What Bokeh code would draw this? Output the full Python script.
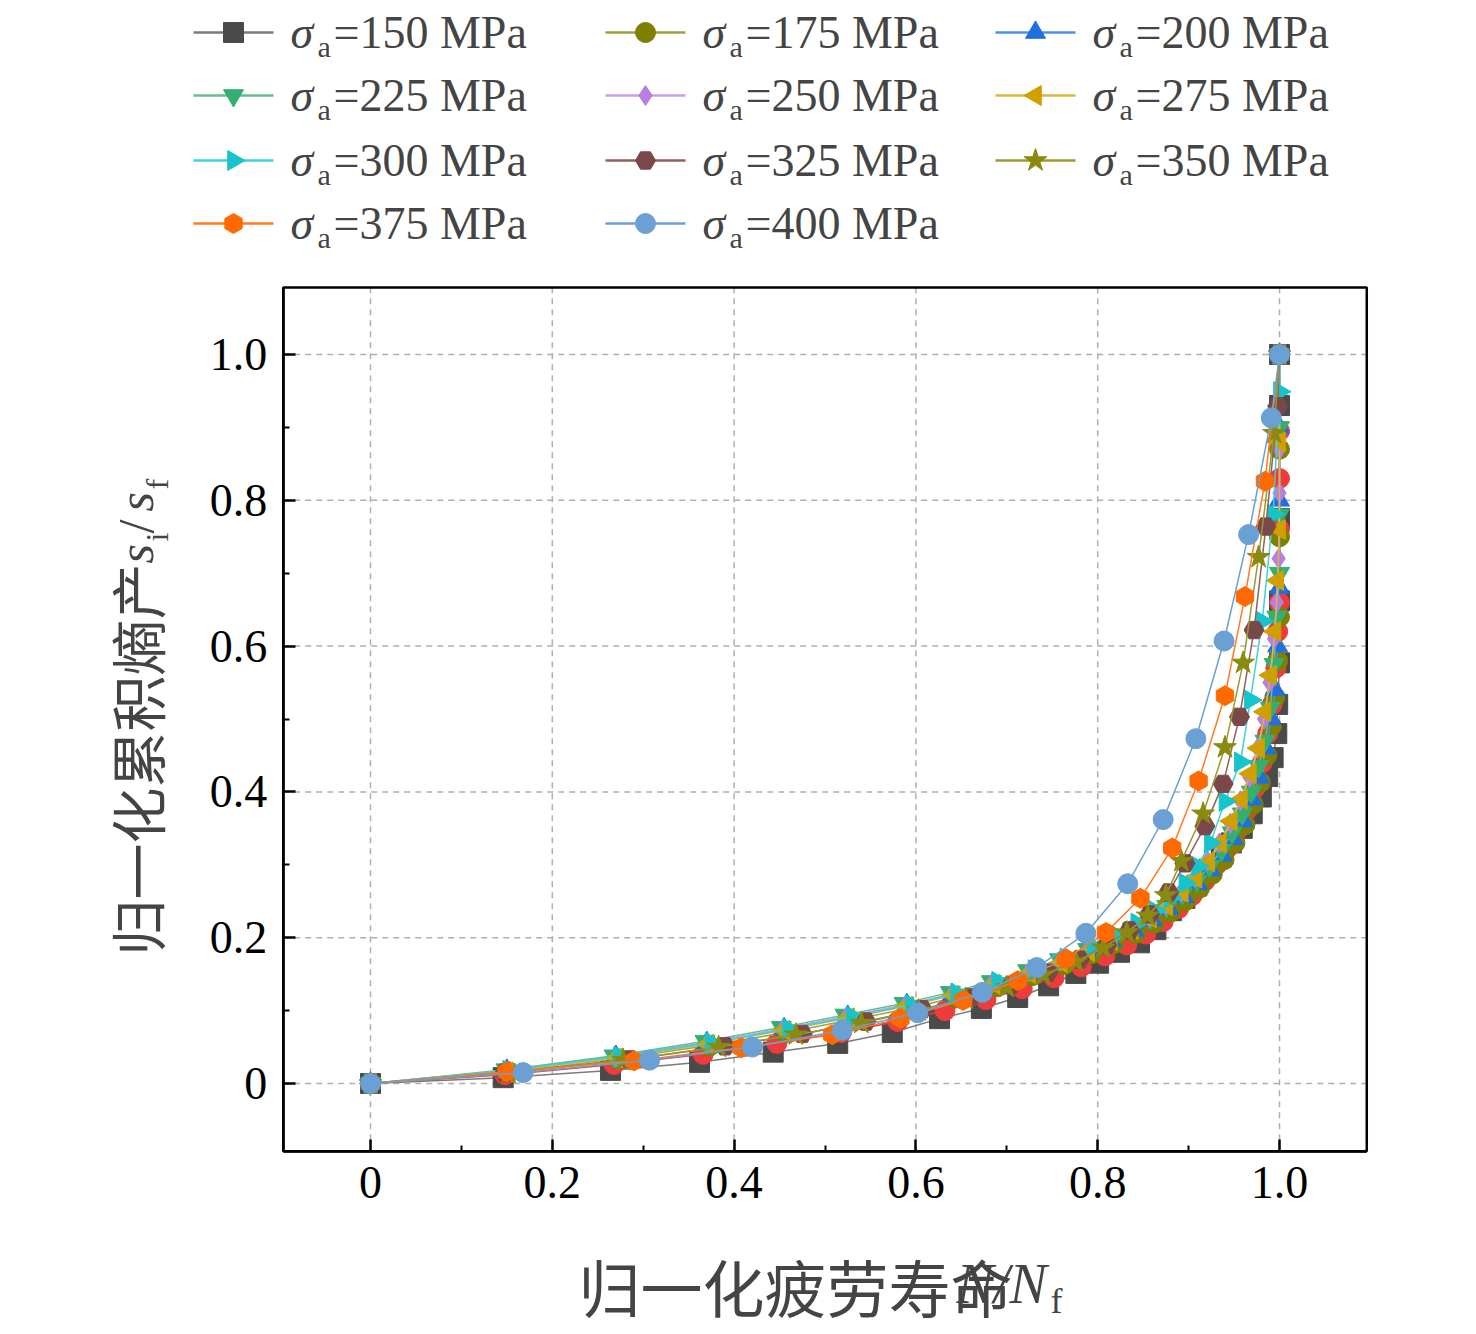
import math
from bokeh.plotting import figure
from bokeh.models import Range1d, Label, FixedTicker
from bokeh.embed import file_html
from bokeh.resources import INLINE

X150=[0,0.146,0.264,0.362,0.443,0.514,0.574,0.626,0.672,0.712,0.746,0.776,0.801,0.824,0.846,0.864,0.881,0.896,0.909,0.923,0.936,0.947,0.959,0.970,0.980,0.987,0.993,0.997,0.998,1.0,1.0,1.0,1.0,1.0]
Y150=[0,0.008,0.018,0.029,0.043,0.055,0.070,0.089,0.103,0.118,0.134,0.151,0.165,0.180,0.193,0.211,0.237,0.254,0.271,0.294,0.311,0.330,0.350,0.370,0.393,0.421,0.447,0.480,0.520,0.577,0.662,0.775,0.930,1.0]
XRED=[0,0.148,0.268,0.366,0.447,0.518,0.58,0.632,0.677,0.717,0.752,0.782,0.808,0.832,0.853,0.872,0.889,0.904,0.918,0.931,0.943,0.954,0.964,0.973,0.981,0.987,0.992,0.996,0.998,1.0,1.0,1.0,1.0,1.0]
YRED=[0,0.012,0.026,0.04,0.055,0.07,0.085,0.1,0.115,0.13,0.145,0.16,0.175,0.19,0.205,0.222,0.24,0.258,0.278,0.3,0.323,0.348,0.375,0.405,0.44,0.48,0.52,0.57,0.62,0.66,0.76,0.83,0.895,1.0]
X175=[0,0.152,0.272,0.372,0.457,0.528,0.592,0.643,0.688,0.728,0.763,0.793,0.818,0.842,0.862,0.88,0.897,0.912,0.926,0.939,0.951,0.962,0.971,0.979,0.986,0.991,0.995,0.998,1.0,1.0,1.0,1.0]
Y175=[0,0.016,0.034,0.052,0.07,0.087,0.103,0.118,0.133,0.148,0.163,0.178,0.192,0.206,0.22,0.235,0.251,0.268,0.287,0.307,0.33,0.355,0.383,0.413,0.45,0.49,0.53,0.58,0.64,0.75,0.87,1.0]
X200=[0,0.15,0.27,0.37,0.455,0.525,0.59,0.64,0.685,0.725,0.76,0.79,0.815,0.84,0.86,0.878,0.895,0.91,0.924,0.937,0.949,0.96,0.97,0.978,0.985,0.991,0.995,0.998,1.0,1.0,1.0,1.0]
Y200=[0,0.018,0.037,0.056,0.075,0.092,0.108,0.122,0.137,0.152,0.167,0.182,0.196,0.21,0.224,0.24,0.256,0.274,0.293,0.313,0.336,0.36,0.39,0.42,0.46,0.5,0.54,0.6,0.68,0.8,0.9,1.0]
X225=[0,0.149,0.268,0.368,0.452,0.522,0.587,0.638,0.683,0.723,0.758,0.789,0.814,0.838,0.858,0.876,0.893,0.909,0.923,0.936,0.948,0.959,0.969,0.977,0.984,0.99,0.994,0.997,1.0,1.0,1.0,1.0]
Y225=[0,0.019,0.038,0.058,0.077,0.094,0.11,0.125,0.14,0.155,0.17,0.184,0.198,0.212,0.227,0.243,0.26,0.278,0.298,0.32,0.344,0.37,0.4,0.435,0.47,0.515,0.575,0.64,0.7,0.78,0.9,1.0]
X250=[0,0.151,0.27,0.371,0.454,0.524,0.589,0.64,0.684,0.724,0.759,0.789,0.814,0.838,0.857,0.875,0.892,0.907,0.921,0.934,0.946,0.957,0.967,0.976,0.983,0.989,0.994,0.997,0.999,1.0,1.0,1.0]
Y250=[0,0.017,0.036,0.056,0.075,0.092,0.108,0.123,0.138,0.153,0.168,0.183,0.198,0.213,0.228,0.245,0.263,0.283,0.305,0.33,0.357,0.388,0.42,0.46,0.5,0.55,0.61,0.66,0.72,0.81,0.87,1.0]
X275=[0,0.15,0.271,0.371,0.455,0.526,0.59,0.641,0.686,0.725,0.76,0.79,0.815,0.838,0.858,0.876,0.893,0.908,0.922,0.935,0.947,0.958,0.968,0.977,0.984,0.99,0.995,0.998,1.0,1.0,1.0]
Y275=[0,0.016,0.035,0.054,0.073,0.09,0.106,0.121,0.136,0.151,0.166,0.181,0.196,0.211,0.227,0.244,0.262,0.282,0.304,0.33,0.36,0.39,0.425,0.46,0.51,0.56,0.62,0.69,0.76,0.88,1.0]
X300=[0,0.152,0.274,0.375,0.46,0.53,0.595,0.645,0.69,0.73,0.765,0.795,0.82,0.843,0.863,0.88,0.896,0.91,0.924,0.94,0.957,0.968,0.981,0.993,1.0,1.0]
Y300=[0,0.018,0.037,0.056,0.075,0.092,0.108,0.124,0.14,0.156,0.172,0.188,0.204,0.22,0.237,0.255,0.275,0.298,0.33,0.387,0.441,0.526,0.634,0.781,0.949,1.0]
X325=[0,0.148,0.285,0.39,0.475,0.545,0.607,0.66,0.705,0.745,0.78,0.81,0.835,0.857,0.878,0.896,0.918,0.938,0.956,0.972,0.985,0.998,1.0]
Y325=[0,0.015,0.033,0.051,0.068,0.085,0.102,0.118,0.135,0.152,0.17,0.19,0.21,0.232,0.262,0.302,0.353,0.411,0.503,0.622,0.764,0.929,1.0]
X350=[0,0.152,0.278,0.383,0.468,0.54,0.603,0.655,0.7,0.74,0.776,0.806,0.832,0.855,0.875,0.892,0.916,0.94,0.96,0.977,0.994,1.0]
Y350=[0,0.014,0.032,0.05,0.067,0.083,0.1,0.116,0.132,0.149,0.167,0.186,0.207,0.23,0.258,0.305,0.37,0.461,0.577,0.722,0.892,1.0]
X375=[0,0.15,0.29,0.408,0.508,0.583,0.652,0.712,0.765,0.809,0.847,0.882,0.911,0.94,0.962,0.984,1.0]
Y375=[0,0.016,0.031,0.049,0.067,0.089,0.114,0.141,0.171,0.207,0.254,0.323,0.415,0.532,0.668,0.826,1.0]
X400=[0,0.168,0.307,0.42,0.519,0.602,0.673,0.733,0.787,0.833,0.872,0.908,0.939,0.966,0.991,1.0]
Y400=[0,0.015,0.032,0.05,0.073,0.097,0.125,0.159,0.206,0.274,0.362,0.473,0.607,0.753,0.913,1.0]

LEVELS=["150","175","200","225","250","275","300","325","350","375","400"]
TICKS=[0,0.2,0.4,0.6,0.8,1.0]
TICK_LABELS=["0","0.2","0.4","0.6","0.8","1.0"]
MINOR=[0.1,0.3,0.5,0.7,0.9]

SERIES={
 "150":(X150,Y150,"#4a4a4a","#7a7a7a","square",0),
 "red":(XRED,YRED,"#ee3b3b","#ee3b3b","circle",0),
 "175":(X175,Y175,"#7f7f00","#a0a040","circle",0),
 "200":(X200,Y200,"#1f6fe0","#4a90e8","triangle",0),
 "225":(X225,Y225,"#33b070","#60c090","inverted_triangle",0),
 "250":(X250,Y250,"#b77fe0","#c8a0e8","diamond",0),
 "275":(X275,Y275,"#d0a000","#d8b840","triangle",math.pi/2),
 "300":(X300,Y300,"#18c4cc","#40d0d8","triangle",-math.pi/2),
 "325":(X325,Y325,"#7a4848","#906060","hex",0),
 "350":(X350,Y350,"#8a8a10","#9a9a30","star",0),
 "375":(X375,Y375,"#ff6a00","#ff7a20","hex",math.pi/6),
 "400":(X400,Y400,"#6aa0d4","#6aa0d4","circle",0),
}
ORDER=["150","red","175","200","225","250","275","300","325","350","375","400"]
SERIF="Liberation Serif"
CJK="Noto Sans CJK SC"

# page layout: data 0 -> px 370, 1 -> px 1279 ; y 0 -> px 1083, 1 -> px 354
W,H=1460,1318
SX,SY=909.0,729.0
def X(px): return (px-370)/SX
def Y(py): return (1083-py)/SY
XL,XR,YB,YT=-0.096,1.096,-0.093,1.092

p=figure(width=W,height=H,output_backend="svg",toolbar_location=None,
         x_range=Range1d(X(0),X(W)),y_range=Range1d(Y(H),Y(0)),min_border=0)
p.outline_line_color=None
p.background_fill_color="white"
p.xgrid.visible=False; p.ygrid.visible=False

# grid lines
p.segment(x0=TICKS,x1=TICKS,y0=[YB]*6,y1=[YT]*6,line_color="#b0b0b0",line_dash="6 5",line_width=1.5)
p.segment(x0=[XL]*6,x1=[XR]*6,y0=TICKS,y1=TICKS,line_color="#b0b0b0",line_dash="6 5",line_width=1.5)

p.xaxis.fixed_location=YB
p.yaxis.fixed_location=XL
p.xaxis.bounds=(XL,XR); p.yaxis.bounds=(YB,YT)
for ax in (p.xaxis[0],p.yaxis[0]):
    ax.ticker=FixedTicker(ticks=TICKS,minor_ticks=MINOR)
    ax.major_label_overrides={t:l for t,l in zip(TICKS,TICK_LABELS)}
    ax.major_label_text_font=SERIF
    ax.major_label_text_font_size="46px"
    ax.major_label_text_color="black"
    ax.major_tick_in=12; ax.major_tick_out=0
    ax.minor_tick_in=6; ax.minor_tick_out=0
    ax.major_tick_line_width=2.5; ax.minor_tick_line_width=2
    ax.axis_line_width=2.5
p.xaxis.major_label_standoff=16
p.yaxis.major_label_standoff=16

for k in ORDER:
    xs,ys,c,lc,m,a=SERIES[k]
    p.line(xs,ys,line_color=lc,line_width=1.5)
    p.scatter(xs,ys,marker=m,size=20 if m!="star" else 24,angle=a,fill_color=c,line_color=c)

# plot box
p.quad(left=[XL],right=[XR],bottom=[YB],top=[YT],fill_color=None,line_color="black",line_width=2.5)

# axis titles
p.add_layout(Label(x=X(578),y=Y(1285),text="归一化疲劳寿命",text_font=CJK,text_font_size="62px",text_baseline="middle"))
p.add_layout(Label(x=X(956),y=Y(1283),text="N/N",text_font=SERIF,text_font_style="italic",text_font_size="56px",text_baseline="middle"))
p.add_layout(Label(x=X(1050),y=Y(1300),text="f",text_font=SERIF,text_font_size="36px",text_baseline="middle"))
yl=X(135); ys_=X(156)
p.add_layout(Label(x=yl,y=Y(955),text="归一化累积熵产",angle=math.pi/2,text_font=CJK,text_font_size="56px",text_baseline="middle"))
p.add_layout(Label(x=yl,y=Y(563),text="s",angle=math.pi/2,text_font=SERIF,text_font_style="italic",text_font_size="50px",text_baseline="middle"))
p.add_layout(Label(x=ys_,y=Y(541),text="i",angle=math.pi/2,text_font=SERIF,text_font_size="32px",text_baseline="middle"))
p.add_layout(Label(x=yl,y=Y(533),text="/",angle=math.pi/2,text_font=SERIF,text_font_size="50px",text_baseline="middle"))
p.add_layout(Label(x=yl,y=Y(511),text="s",angle=math.pi/2,text_font=SERIF,text_font_style="italic",text_font_size="50px",text_baseline="middle"))
p.add_layout(Label(x=ys_,y=Y(489),text="f",angle=math.pi/2,text_font=SERIF,text_font_size="32px",text_baseline="middle"))

# legend
COLS=[193,605,995]; ROWS=[32,95,160,223]
for i,k in enumerate(LEVELS):
    xs,ys,c,lc,m,a=SERIES[k]
    x0=COLS[i%3]; y0=ROWS[i//3]
    p.line([X(x0),X(x0+80)],[Y(y0),Y(y0)],line_color=lc,line_width=2.5)
    p.scatter([X(x0+40)],[Y(y0)],marker=m,size=20 if m!="star" else 24,angle=a,fill_color=c,line_color=c)
    tx=x0+97
    p.add_layout(Label(x=X(tx),y=Y(y0),text="σ",text_font=SERIF,text_font_style="italic",text_font_size="46px",text_baseline="middle"))
    p.add_layout(Label(x=X(tx+27),y=Y(y0+14),text="a",text_font=SERIF,text_font_size="30px",text_baseline="middle"))
    p.add_layout(Label(x=X(tx+43),y=Y(y0),text="="+k+" MPa",text_font=SERIF,text_font_size="46px",text_baseline="middle"))

open("out.html","w").write(file_html(p,INLINE))
